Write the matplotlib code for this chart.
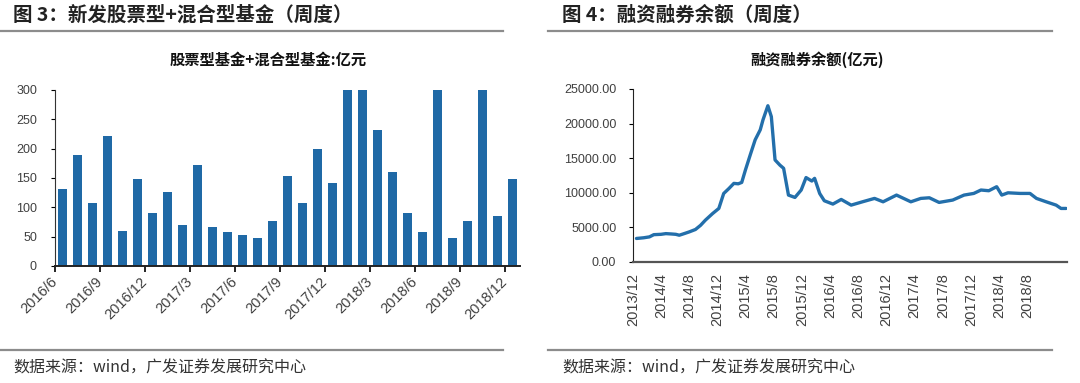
import matplotlib
matplotlib.use("Agg")
import matplotlib.pyplot as plt
from matplotlib.lines import Line2D
import pandas as pd
import numpy as np

plt.rcParams['font.family'] = ['Noto Sans CJK SC', 'DejaVu Sans']

# ---- left chart: new equity + hybrid funds (100m yuan), monthly 2016/6 .. 2018/12
fund_values = [132, 189, 108, 222, 59, 149, 90, 126, 70, 173, 67, 58, 52, 48, 77,
               153, 107, 199, 142, 300, 300, 231, 160, 90, 58, 300, 47, 77, 300, 85, 149]
fund_labels = ['2016/6', '2016/9', '2016/12', '2017/3', '2017/6', '2017/9',
               '2017/12', '2018/3', '2018/6', '2018/9', '2018/12']

# ---- right chart: margin trading balance (100m yuan)
margin_dates = ['2013-12-16', '2014-01-16', '2014-02-10', '2014-03-01', '2014-04-01',
                '2014-04-22', '2014-05-16', '2014-06-04', '2014-06-19', '2014-07-10',
                '2014-08-01', '2014-08-28', '2014-09-19', '2014-10-10', '2014-11-10',
                '2014-12-07', '2014-12-28', '2015-01-19', '2015-02-10', '2015-03-01',
                '2015-03-16', '2015-04-01', '2015-04-22', '2015-05-13', '2015-06-04',
                '2015-06-16', '2015-07-07', '2015-07-22', '2015-08-07', '2015-08-28',
                '2015-09-13', '2015-10-04', '2015-11-01', '2015-11-28', '2015-12-19',
                '2016-01-13', '2016-01-25', '2016-02-16', '2016-03-07', '2016-04-13',
                '2016-05-19', '2016-07-01', '2016-08-19', '2016-10-10', '2016-11-16',
                '2017-01-13', '2017-03-16', '2017-04-28', '2017-06-04', '2017-07-16',
                '2017-09-13', '2017-11-01', '2017-12-13', '2018-01-13', '2018-02-16',
                '2018-03-22', '2018-04-13', '2018-05-10', '2018-07-01', '2018-08-13',
                '2018-09-10', '2018-10-22', '2018-12-04', '2018-12-25', '2019-01-16']
margin_values = [3400, 3500, 3630, 3950, 4000, 4100, 4050, 4000, 3870, 4100,
                 4350, 4700, 5300, 6050, 7000, 7740, 9900, 10600, 11360, 11300,
                 11500, 13300, 15500, 17650, 19100, 20550, 22580, 21000, 14750, 14000,
                 13540, 9670, 9330, 10400, 12200, 11700, 12090, 9900, 8850, 8370,
                 9040, 8220, 8700, 9190, 8700, 9670, 8700, 9190, 9280, 8610,
                 8950, 9670, 9910, 10400, 10300, 10880, 9670, 10000, 9910, 9910,
                 9190, 8700, 8220, 7740, 7740]
margin_ticks = ['2013-12-01', '2014-04-01', '2014-08-01', '2014-12-01', '2015-04-01',
                '2015-08-01', '2015-12-01', '2016-04-01', '2016-08-01', '2016-12-01',
                '2017-04-01', '2017-08-01', '2017-12-01', '2018-04-01', '2018-08-01']

BLUE = '#1f69a6'
TICK_COLOR = '#404040'
NUM_FONT = 'Liberation Sans'

fig = plt.figure(figsize=(10.8, 3.83), dpi=100)

# headers, rules and sources
def hline(x0, x1, y):
    fig.add_artist(Line2D([x0 / 1080, x1 / 1080], [1 - y / 383, 1 - y / 383],
                          color='#8c8c8c', lw=1.6))

fig.text(13 / 1080, 1 - 15 / 383, '图 3：新发股票型+混合型基金（周度）',
         fontsize=14, fontweight='bold', va='center', ha='left', color='#222222')
fig.text(562 / 1080, 1 - 15 / 383, '图 4：融资融券余额（周度）',
         fontsize=14, fontweight='bold', va='center', ha='left', color='#222222')
hline(0, 503, 31)
hline(548, 1052, 31)
hline(0, 503, 350)
hline(548, 1052, 350)
fig.text(13 / 1080, 1 - 368 / 383, '数据来源：wind，广发证券发展研究中心',
         fontsize=11.5, va='center', ha='left', color='#333333')
fig.text(562 / 1080, 1 - 368 / 383, '数据来源：wind，广发证券发展研究中心',
         fontsize=11.5, va='center', ha='left', color='#333333')
fig.text(268 / 1080, 1 - 60 / 383, '股票型基金+混合型基金:亿元',
         fontsize=11, fontweight='bold', va='center', ha='center', color='#111111')
fig.text(817 / 1080, 1 - 60 / 383, '融资融券余额(亿元)',
         fontsize=11, fontweight='bold', va='center', ha='center', color='#111111')

# ---- left chart
ax1 = fig.add_axes([55 / 1080, 1 - 266 / 383, 465 / 1080, 176 / 383])
x = np.arange(len(fund_values))
ax1.bar(x, fund_values, width=0.66, color=BLUE)
ax1.set_xlim(-0.5, len(fund_values) - 0.5)
ax1.set_ylim(0, 300)
ax1.set_yticks(np.arange(0, 301, 50))
tick_pos = np.arange(len(fund_labels)) * 3 - 0.5
ax1.set_xticks(tick_pos)
ax1.set_xticklabels(fund_labels)
plt.setp(ax1.get_xticklabels(), rotation=45, ha='right', va='center',
         rotation_mode='anchor', fontsize=10.5, family=NUM_FONT, color=TICK_COLOR)
plt.setp(ax1.get_yticklabels(), fontsize=9, family=NUM_FONT, color=TICK_COLOR)
for s in ['top', 'right']:
    ax1.spines[s].set_visible(False)
ax1.spines['left'].set_color('#333333')
ax1.spines['bottom'].set_color('#222222')
ax1.spines['bottom'].set_linewidth(1.4)
ax1.tick_params(axis='x', length=4, width=1.2, pad=6)
ax1.tick_params(axis='y', length=3, pad=10)

# ---- right chart
ax2 = fig.add_axes([633 / 1080, 1 - 262 / 383, 434 / 1080, 173 / 383])
dates = pd.to_datetime(margin_dates)
ax2.plot(dates, margin_values, color='#236fab', lw=2.4, solid_capstyle='round')
ax2.set_xlim(pd.Timestamp('2013-12-01'), pd.Timestamp('2019-01-20'))
ax2.set_ylim(0, 25000)
ax2.set_yticks(np.arange(0, 25001, 5000))
ax2.yaxis.set_major_formatter(matplotlib.ticker.FuncFormatter(lambda v, p: '%.2f' % v))
tick_dates = pd.to_datetime(margin_ticks)
ax2.set_xticks(tick_dates)
ax2.set_xticklabels([f'{d.year}/{d.month}' for d in tick_dates])
plt.setp(ax2.get_xticklabels(), rotation=90, ha='center', va='top',
         fontsize=10.5, family=NUM_FONT, color=TICK_COLOR)
plt.setp(ax2.get_yticklabels(), fontsize=9, family=NUM_FONT, color=TICK_COLOR)
for s in ['top', 'right']:
    ax2.spines[s].set_visible(False)
ax2.spines['left'].set_color('#222222')
ax2.spines['bottom'].set_color('#555555')
ax2.spines['bottom'].set_linewidth(1.6)
ax2.tick_params(axis='x', length=0, pad=8)
ax2.tick_params(axis='y', length=3, pad=9)

fig.savefig('out.png', dpi=100)
